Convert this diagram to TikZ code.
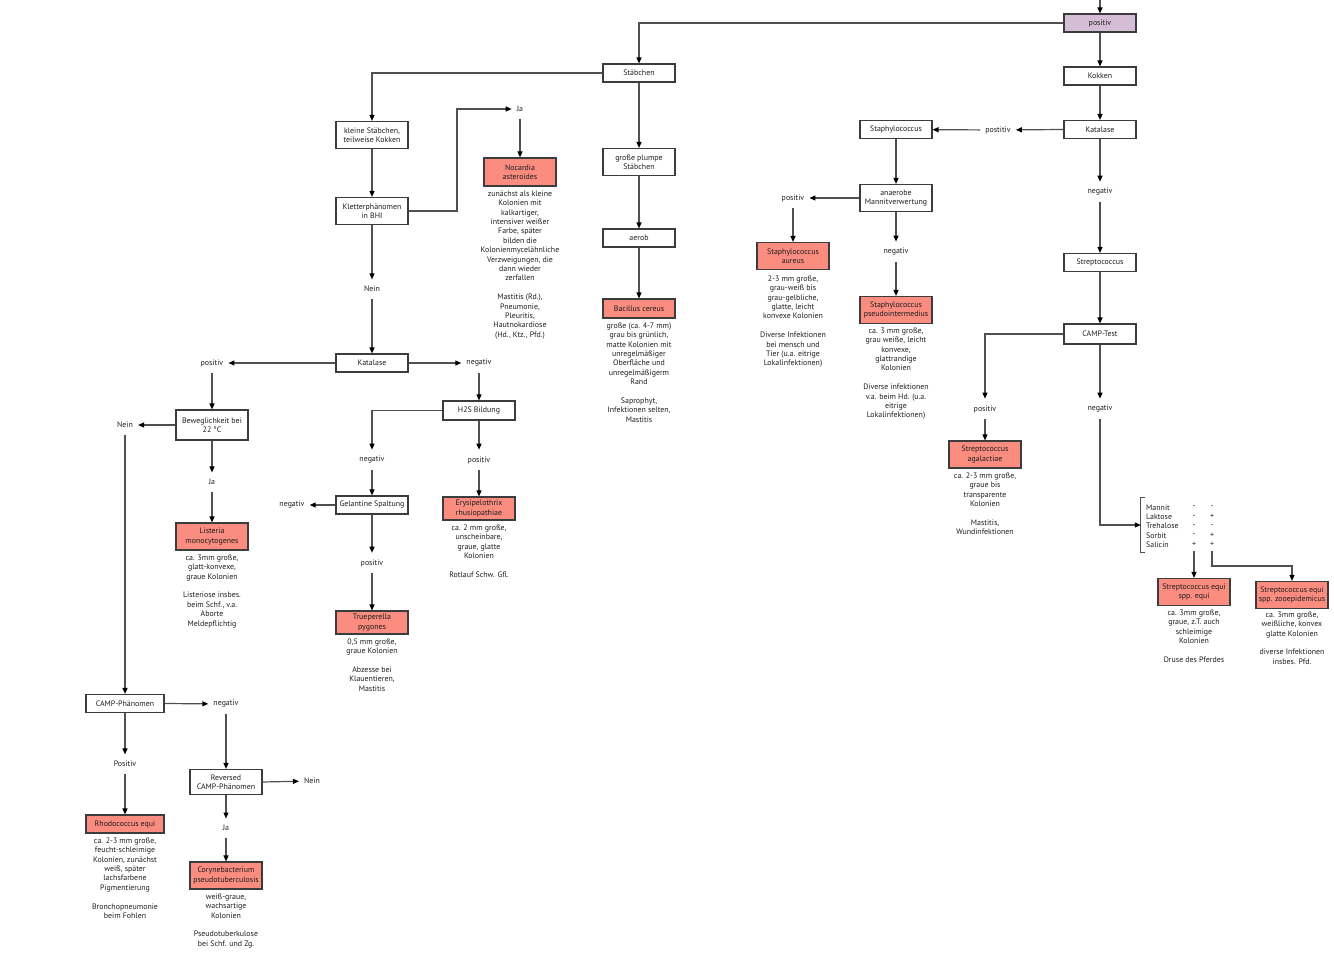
\documentclass[tikz,border=0pt]{standalone}
\usepackage{fontspec}
\setmainfont{PT Sans}
\usetikzlibrary{arrows.meta}
\definecolor{salm}{RGB}{250,140,128}
\definecolor{purp}{RGB}{213,190,213}
\definecolor{bordc}{RGB}{60,60,60}
\definecolor{linec}{RGB}{80,80,80}
\definecolor{txtc}{RGB}{30,30,30}
\newcommand\dfont{\fontsize{7.9pt}{9.4pt}\selectfont}
\begin{document}
\begin{tikzpicture}[x=1pt,y=-1pt,
  every node/.style={text=txtc},
  box/.style={draw=bordc, line width=1.1pt, fill=white, minimum width=72pt, minimum height=18pt, inner sep=1pt, align=center, font=\dfont},
  tall/.style={minimum height=27pt},
  redbox/.style={box, fill=salm},
  lab/.style={inner xsep=5pt, inner ysep=6.5pt, font=\dfont},
  desc/.style={align=center, inner sep=0pt, anchor=north, font=\dfont},
  sg/.style={inner sep=0pt, font=\dfont},
  arr/.style={draw=linec, line width=1.2pt, -{Triangle[length=6pt,width=5pt,color=black]}},
  ln/.style={draw=linec, line width=1.2pt}]
\useasboundingbox (0,0) rectangle (1334,960);

% right branch
\coordinate (top) at (1100,0);
\node[box, fill=purp] (ppos) at (1100,23) {positiv};
\node[box] (kok) at (1100,76) {Kokken};
\node[box] (kat1) at (1100,129.5) {Katalase};
\node[lab] (lpost) at (998,130) {postitiv};
\node[box] (staph) at (896,129.5) {Staphylococcus};
\node[box, tall] (anaer) at (896,198) {anaerobe\\Mannitverwertung};
\node[lab] (lpos2) at (793,198) {positiv};
\node[redbox, tall] (saur) at (793,256) {Staphylococcus\\aureus};
\node[lab] (lneg2) at (896,252) {negativ};
\node[redbox, tall] (spse) at (896,310) {Staphylococcus\\pseudointermedius};
\node[lab] (lneg1) at (1100,192) {negativ};
\node[box] (strep) at (1100,262.5) {Streptococcus};
\node[box, minimum height=20pt] (camp) at (1100,334) {CAMP-Test};
\node[lab] (lpos3) at (985,409) {positiv};
\node[lab] (lneg3) at (1100,409) {negativ};
\node[redbox, tall] (sagal) at (985,454.5) {Streptococcus\\agalactiae};
\node[minimum width=81pt, minimum height=54pt, inner sep=0pt] (sug) at (1181.5,525) {};
\node[redbox, tall] (seq) at (1194,592) {Streptococcus equi\\spp. equi};
\node[redbox, tall] (szoo) at (1292,595) {Streptococcus equi\\spp. zooepidemicus};

\node[sg, anchor=west] (m1) at (1146,507.5) {Mannit};
\node[sg, anchor=west] (m2) at (1146,516.8) {Laktose};
\node[sg, anchor=west] (m3) at (1146,526.1) {Trehalose};
\node[sg, anchor=west] (m4) at (1146,535.5) {Sorbit};
\node[sg, anchor=west] (m5) at (1146,544.8) {Salicin};
\node[sg] (a1) at (1194,507.5) {-};
\node[sg] (a2) at (1194,516.8) {-};
\node[sg] (a3) at (1194,526.1) {-};
\node[sg] (a4) at (1194,535.5) {-};
\node[sg] (a5) at (1194,544.8) {+};
\node[sg] (b1) at (1212,507.5) {-};
\node[sg] (b2) at (1212,516.8) {+};
\node[sg] (b3) at (1212,526.1) {-};
\node[sg] (b4) at (1212,535.5) {+};
\node[sg] (b5) at (1212,544.8) {+};
\coordinate (c1) at (1194,551);
\coordinate (c2) at (1212,551);

% middle / left branches
\node[box] (stab) at (639,73) {Stäbchen};
\node[box, tall] (gross) at (639,162) {große plumpe\\Stäbchen};
\node[box] (aerob) at (639,238) {aerob};
\node[redbox, minimum height=19pt] (bac) at (639,308.5) {Bacillus cereus};
\node[box, tall] (klein) at (372,135) {kleine Stäbchen,\\teilweise Kokken};
\node[box, tall] (klett) at (372,211) {Kletterphänomen\\in BHI};
\coordinate (kj) at (457,109);
\node[lab] (lja1) at (520,109) {Ja};
\node[redbox, minimum height=28pt] (noc) at (520,172) {Nocardia\\asteroides};
\node[lab] (lnein1) at (372,289) {Nein};
\node[box] (kat2) at (372,363) {Katalase};
\node[lab] (lpos4) at (212,363) {positiv};
\node[lab] (lneg4) at (479,363) {negativ};
\node[box, minimum height=19pt] (h2s) at (479,410.5) {H2S Bildung};
\node[lab] (lneg5) at (372,460) {negativ};
\node[lab] (lpos5) at (479,460) {positiv};
\node[redbox, minimum height=23pt] (ery) at (479,508.5) {Erysipelothrix\\rhusiopathiae};
\node[box] (gel) at (372,505) {Gelantine Spaltung};
\node[lab] (lneg6) at (292,505) {negativ};
\node[lab] (lpos6) at (372,563) {positiv};
\node[redbox, minimum height=23pt] (true) at (372,622.5) {Trueperella\\pygones};
\node[box, minimum height=30pt] (bew) at (212,425) {Beweglichkeit bei\\22 °C};
\node[lab] (lnein2) at (125,425) {Nein};
\node[lab] (lja2) at (212,482) {Ja};
\node[redbox, tall] (list) at (212,536.5) {Listeria\\monocytogenes};
\node[box, minimum width=78pt] (campph) at (125,703.5) {CAMP-Phänomen};
\node[lab] (lneg7) at (226,704) {negativ};
\node[box, minimum height=25pt] (rev) at (226,782) {Reversed\\CAMP-Phänomen};
\node[lab] (lnein3) at (312,781) {Nein};
\node[lab] (lja3) at (226,828) {Ja};
\node[redbox, tall] (cory) at (226,875.5) {Corynebacterium\\pseudotuberculosis};
\node[lab] (lposP) at (125,764) {Positiv};
\node[redbox, minimum width=78pt] (rhodo) at (125,824) {Rhodococcus equi};

% descriptions
\node[desc] (dnoc) at (520,190.5) {zunächst als kleine\\Kolonien mit\\kalkartiger,\\intensiver weißer\\Farbe, später\\bilden die\\Kolonienmycelähnliche\\Verzweigungen, die\\dann wieder\\zerfallen\\[9.4pt]Mastitis (Rd.),\\Pneumonie,\\Pleuritis,\\Hautnokardiose\\(Hd., Ktz., Pfd.)};
\node[desc] (dbac) at (639,322.5) {große (ca. 4-7 mm)\\grau bis grünlich,\\matte Kolonien mit\\unregelmäßiger\\Oberfläche und\\unregelmäßigerm\\Rand\\[9.4pt]Saprophyt,\\Infektionen selten,\\Mastitis};
\node[desc] (dsaur) at (793,275.5) {2-3 mm große,\\grau-weiß bis\\grau-gelbliche,\\glatte, leicht\\konvexe Kolonien\\[9.4pt]Diverse Infektionen\\bei mensch und\\Tier (u.a. eitrige\\Lokalinfektionen)};
\node[desc] (dspse) at (896,327.5) {ca. 3 mm große,\\grau weiße, leicht\\konvexe,\\glattrandige\\Kolonien\\[9.4pt]Diverse infektionen\\v.a. beim Hd. (u.a.\\eitrige\\Lokalinfektionen)};
\node[desc] (dsagal) at (985,472.5) {ca. 2-3 mm große,\\graue bis\\transparente\\Kolonien\\[9.4pt]Mastitis,\\Wundinfektionen};
\node[desc] (dseq) at (1194,609.5) {ca. 3mm große,\\graue, z.T. auch\\schleimige\\Kolonien\\[9.4pt]Druse des Pferdes};
\node[desc] (dszoo) at (1292,611.5) {ca. 3mm große,\\weißliche, konvex\\glatte Kolonien\\[9.4pt]diverse Infektionen\\insbes. Pfd.};
\node[desc] (dlist) at (212,554.5) {ca. 3mm große,\\glatt-konvexe,\\graue Kolonien\\[9.4pt]Listeriose insbes.\\beim Schf., v.a.\\Aborte\\Meldepflichtig};
\node[desc] (dery) at (479,524.5) {ca. 2 mm große,\\unscheinbare,\\graue, glatte\\Kolonien\\[9.4pt]Rotlauf Schw. Gfl.};
\node[desc] (dtrue) at (372,638.5) {0,5 mm große,\\graue Kolonien\\[9.4pt]Abzesse bei\\Klauentieren,\\Mastitis};
\node[desc] (drhodo) at (125,837.5) {ca. 2-3 mm große,\\feucht-schleimige\\Kolonien, zunächst\\weiß, später\\lachsfarbene\\Pigmentierung\\[9.4pt]Bronchopneumonie\\beim Fohlen};
\node[desc] (dcory) at (226,893.5) {weiß-graue,\\wachsartige\\Kolonien\\[9.4pt]Pseudotuberkulose\\bei Schf. und Zg.};

% connectors right
\draw[arr] (top) -- (ppos);
\draw[arr] (ppos.west) -| (stab.north);
\draw[arr] (ppos) -- (kok);
\draw[arr] (kok) -- (kat1);
\draw[arr] (kat1.west) -- (lpost);
\draw[arr] (lpost) -- (staph);
\draw[arr] (staph) -- (anaer);
\draw[arr] (anaer.west) -- (lpos2);
\draw[arr] (lpos2) -- (saur);
\draw[arr] (anaer) -- (lneg2);
\draw[arr] (lneg2) -- (spse);
\draw[arr] (kat1) -- (lneg1);
\draw[arr] (lneg1) -- (strep);
\draw[arr] (strep) -- (camp);
\draw[arr] (camp.west) -| (lpos3);
\draw[arr] (lpos3) -- (sagal);
\draw[arr] (camp) -- (lneg3);
\draw[arr] (lneg3) |- (sug.west);
\draw[ln] ([xshift=4pt]sug.north west) -- (sug.north west) -- (sug.south west) -- ([xshift=4pt]sug.south west);
\draw[arr] (c1) -- (seq);
\draw[arr] (c2) -- ++(0,15) -| (szoo.north);

% connectors left
\draw[arr] (stab.west) -| (klein.north);
\draw[arr] (stab) -- (gross);
\draw[arr] (gross) -- (aerob);
\draw[arr] (aerob) -- (bac);
\draw[arr] (klein) -- (klett);
\draw[arr] (klett.east) -| (kj) -- (lja1);
\draw[arr] (lja1) -- (noc);
\draw[arr] (klett) -- (lnein1);
\draw[arr] (lnein1) -- (kat2);
\draw[arr] (kat2.west) -- (lpos4);
\draw[arr] (kat2.east) -- (lneg4);
\draw[arr] (lneg4) -- (h2s);
\draw[arr] (h2s.west) -| (lneg5);
\draw[arr] (h2s) -- (lpos5);
\draw[arr] (lpos5) -- (ery);
\draw[arr] (lneg5) -- (gel);
\draw[arr] (gel.west) -- (lneg6);
\draw[arr] (gel) -- (lpos6);
\draw[arr] (lpos6) -- (true);
\draw[arr] (lpos4) -- (bew);
\draw[arr] (bew.west) -- (lnein2);
\draw[arr] (bew) -- (lja2);
\draw[arr] (lja2) -- (list);
\draw[arr] (lnein2) -- (campph);
\draw[arr] (campph.east) -- (lneg7);
\draw[arr] (lneg7) -- (rev);
\draw[arr] (rev.east) -- (lnein3);
\draw[arr] (rev) -- (lja3);
\draw[arr] (lja3) -- (cory);
\draw[arr] (campph) -- (lposP);
\draw[arr] (lposP) -- (rhodo);
\end{tikzpicture}
\end{document}
